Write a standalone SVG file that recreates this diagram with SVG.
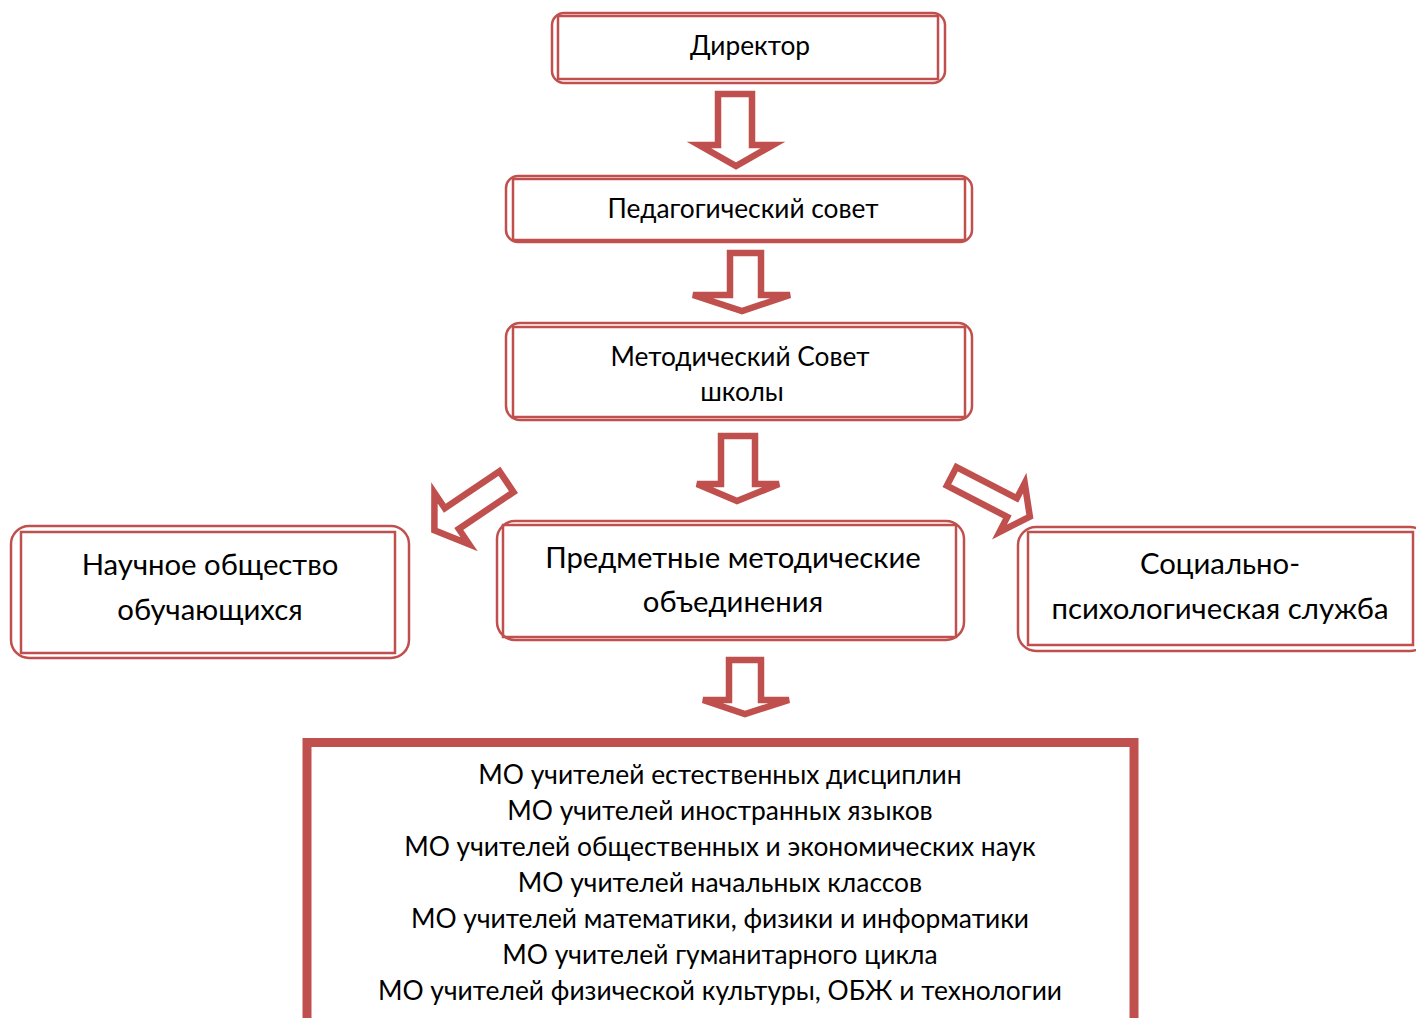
<svg xmlns="http://www.w3.org/2000/svg" width="1416" height="1018" viewBox="0 0 1416 1018">
<style>
.o{fill:#fff;stroke:#C0504D;stroke-width:2.5}
.i{fill:none;stroke:#C0504D;stroke-width:2.5}
.a{fill:#fff;stroke:#C0504D;stroke-width:6.5;stroke-linejoin:miter}
text{font-family:Lato,"Liberation Sans",sans-serif;fill:#000;text-anchor:middle}
.s{font-size:26.3px}
.m{font-size:29.3px}
.b{font-size:26.4px}
</style>
<rect width="1416" height="1018" fill="#fff"/>
<g id="connectors">
<polygon class="a" points="718,94 752,94 752,145 773,145 736,166 699,145 718,145"/>
<polygon class="a" points="730,253 761,253 761,295 790,295 742,311 693,295 730,295"/>
<polygon class="a" points="721,436 755,436 755,484 779,484 737,501 697,484 721,484"/>
<polygon class="a" points="729,660 761,660 761,700 789,700 745,714 703,700 729,700"/>
<polygon class="a" transform="translate(509,480) rotate(56)" points="-12.5,3 12.5,3 12.5,69 31,69 0,90 -31,69 -12.5,69"/>
<polygon class="a" transform="translate(949,475) rotate(-62.7)" points="-10.5,3 10.5,3 10.5,71 27.5,71 0,91 -27.5,71 -10.5,71"/>
</g>
<g id="director">
<rect class="o" x="552" y="13" width="393" height="70" rx="12"/>
<rect class="i" x="558" y="16" width="380" height="63"/>
<text class="s" x="750" y="55">Директор</text>
</g>
<g id="ped">
<rect class="o" x="506" y="176" width="466" height="66" rx="12"/>
<rect class="i" x="513" y="179" width="452" height="61"/>
<text class="s" x="743" y="218">Педагогический совет</text>
</g>
<g id="met">
<rect class="o" x="506" y="323" width="466" height="97" rx="14"/>
<rect class="i" x="513" y="327" width="452" height="90"/>
<text class="s" x="740" y="366">Методический Совет</text>
<text class="s" x="742" y="401">школы</text>
</g>
<g id="nauch">
<rect class="o" x="11" y="526" width="398" height="132" rx="18"/>
<rect class="i" x="21" y="532" width="374" height="121"/>
<text class="m" x="210" y="575">Научное общество</text>
<text class="m" x="210" y="620">обучающихся</text>
</g>
<g id="predm">
<rect class="o" x="497" y="521" width="467" height="119" rx="18"/>
<rect class="i" x="503" y="525" width="453" height="112"/>
<text class="m" x="733" y="568">Предметные методические</text>
<text class="m" x="733" y="612">объединения</text>
</g>
<g id="social">
<rect class="o" x="1018" y="527" width="410" height="124" rx="18"/>
<rect class="i" x="1028" y="532" width="385" height="113"/>
<text class="m" x="1220" y="574">Социально-</text>
<text class="m" x="1220" y="619">психологическая служба</text>
</g>
<g id="mo">
<rect x="307" y="742.5" width="827" height="320" fill="#fff" stroke="#C0504D" stroke-width="9"/>
<text class="b" x="720" y="784">МО учителей естественных дисциплин</text>
<text class="b" x="720" y="820">МО учителей иностранных языков</text>
<text class="b" x="720" y="856">МО учителей общественных и экономических наук</text>
<text class="b" x="720" y="892">МО учителей начальных классов</text>
<text class="b" x="720" y="928">МО учителей математики, физики и информатики</text>
<text class="b" x="720" y="964">МО учителей гуманитарного цикла</text>
<text class="b" x="720" y="1000">МО учителей физической культуры, ОБЖ и технологии</text>
</g>
</svg>
